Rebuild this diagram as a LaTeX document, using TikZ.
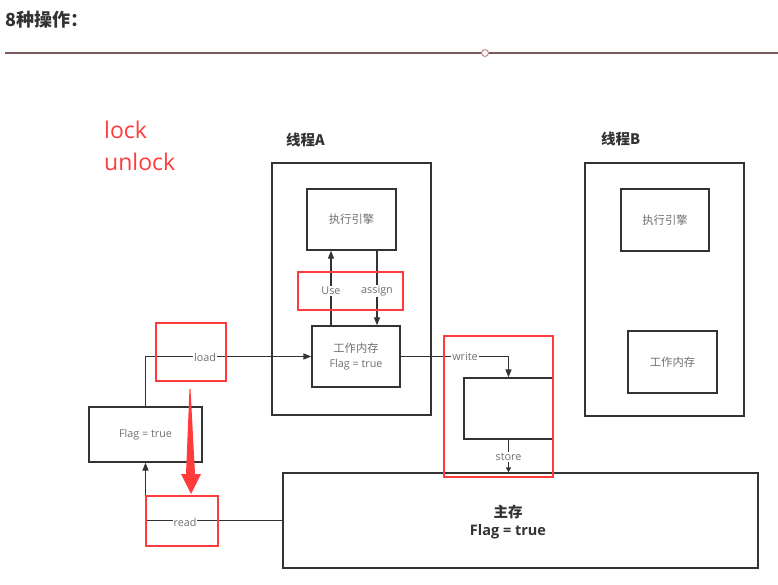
\documentclass[tikz,border=0pt]{standalone}
\usepackage{fontspec}
\setmainfont{Noto Sans CJK SC}
\newfontfamily\latfont{Open Sans}
\usetikzlibrary{arrows.meta}
\definecolor{boxline}{HTML}{333333}
\definecolor{txtgray}{HTML}{707070}
\definecolor{redline}{HTML}{FF3B3B}
\definecolor{titlecol}{HTML}{333333}
\definecolor{rulecol}{HTML}{7A5A5A}
\definecolor{rulecirc}{HTML}{C88A8A}
\tikzset{
  box/.style={draw=boxline, line width=1.3pt, inner sep=0pt, text=txtgray,
    font=\fontsize{11.3}{15.5}\selectfont, align=center},
  redbox/.style={draw=redline, line width=1.8pt, inner sep=0pt},
  conn/.style={draw=boxline, line width=1.3pt, -{Triangle[length=8pt,width=6pt]}},
  lbl/.style={fill=white, inner sep=1pt, text=txtgray, font=\latfont\fontsize{10.8}{13}\selectfont},
  head/.style={text=titlecol, font=\bfseries\fontsize{14.5}{17}\selectfont, anchor=west},
}
\begin{document}
\begin{tikzpicture}[x=1pt,y=-1pt]
\useasboundingbox[fill=white] (0,0) rectangle (778,585);
% title and rule
\node[anchor=west, text=titlecol, font=\bfseries\fontsize{18}{21}\selectfont, inner sep=0pt] (title) at (5,20) {8种操作：};
\coordinate (ruleL) at (5,53);
\coordinate (ruleR) at (778,53);
\draw[rulecol, line width=1.6pt] (ruleL) -- (ruleR);
\node[circle, draw=rulecirc, fill=white, line width=1pt, minimum size=7pt, inner sep=0pt] (rulec) at (485,53) {};
% lock / unlock
\node[anchor=base west, text=redline, font=\latfont\fontsize{23}{28}\selectfont, inner sep=0pt] (lock) at (104,139) {lock};
\node[anchor=base west, text=redline, font=\latfont\fontsize{23}{28}\selectfont, inner sep=0pt] (unlock) at (104,171) {unlock};
% headings
\node[head, inner sep=0pt] (hA) at (286,140) {线程A};
\node[head, inner sep=0pt] (hB) at (601,139) {线程B};
% thread A
\node[box, minimum width=159pt, minimum height=252pt] (A) at (351.5,289) {};
\node[box, minimum width=89pt, minimum height=61pt] (exA) at (351.5,219.5) {执行引擎};
\node[box, minimum width=88pt, minimum height=61pt] (wmA) at (356,356.5) {工作内存\\{\latfont\fontsize{10.8}{15.5}\selectfont Flag = true}};
% thread B
\node[box, minimum width=159pt, minimum height=253pt] (B) at (664.5,289.5) {};
\node[box, minimum width=88pt, minimum height=62pt] (exB) at (665,220) {执行引擎};
\node[box, minimum width=89pt, minimum height=62pt] (wmB) at (672.5,362) {工作内存};
% flag, inner, main
\node[box, minimum width=113pt, minimum height=55pt, font=\latfont\fontsize{10.8}{13}\selectfont] (flag) at (145.5,434.5) {Flag = true};
\node[box, minimum width=89pt, minimum height=61pt] (inner) at (508.5,408.5) {};
\node[box, minimum width=475pt, minimum height=95pt] (main) at (520.5,520.5) {};
\node[text=titlecol, font=\bfseries\fontsize{14.5}{18}\selectfont, align=center, inner sep=0pt] (mainT) at (508,522) {主存\\{\latfont\bfseries Flag = true}};
% connectors
\draw[conn] ([xshift=-25pt]wmA.north) -- ([xshift=-25pt]wmA.north |- exA.south);
\draw[conn] ([xshift=21pt]wmA.north |- exA.south) -- ([xshift=21pt]wmA.north);
\draw[conn] (flag.north) |- (wmA.west);
\draw[conn] (main.west) -| (flag.south);
\draw[conn] (wmA.east) -| (inner.north);
\draw[draw=boxline, line width=1.3pt, -{Triangle[length=5pt,width=5pt]}] (inner.south) -- (inner.south |- main.north);
% labels
\node[lbl] (lUse) at (331,291) {Use};
\node[lbl] (lAssign) at (377,291) {assign};
\node[lbl] (lLoad) at (205,357) {load};
\node[lbl] (lRead) at (185,522) {read};
\node[lbl] (lWrite) at (465,357) {write};
\node[lbl] (lStore) at (508.5,457) {store};
% red boxes
\node[redbox, minimum width=105pt, minimum height=38pt] (rUA) at (350.5,291) {};
\node[redbox, minimum width=70pt, minimum height=58pt] (rLoad) at (191,352) {};
\node[redbox, minimum width=109pt, minimum height=141pt] (rWS) at (498.5,406.5) {};
\node[redbox, minimum width=72pt, minimum height=50pt] (rRead) at (182,521) {};
% red block arrow
\fill[redline] (189.5,389) -- (190.5,389) -- (195,474) -- (201,474) -- (191,494) -- (181,474) -- (186,474) -- cycle;
\end{tikzpicture}
\end{document}
